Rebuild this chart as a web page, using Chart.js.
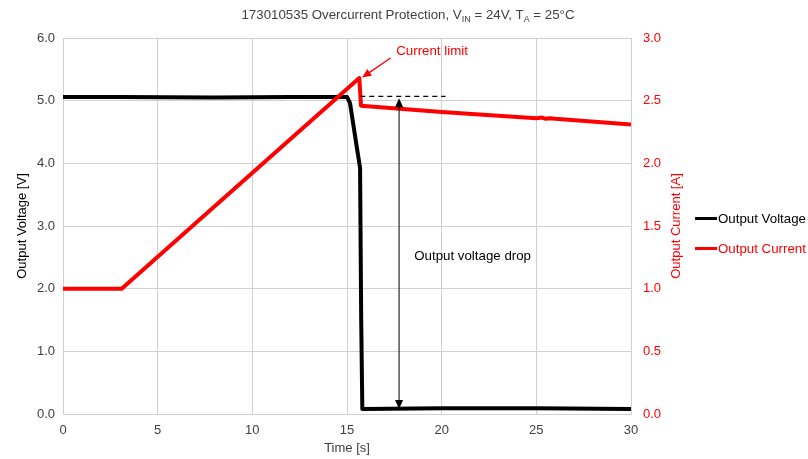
<!DOCTYPE html>
<html>
<head>
<meta charset="utf-8">
<script src="https://cdn.jsdelivr.net/npm/chart.js@4.4.1/dist/chart.umd.min.js"></script>
<style>
  html, body { margin: 0; padding: 0; background: #fff; }
  #wrap { position: relative; width: 808px; height: 459px; font-family: "Liberation Sans", Arial, sans-serif; }
  #title { position: absolute; top: 7px; left: 0; width: 816px; text-align: center; font-size: 13.3px; color: #404040; }
  #title sub { font-size: 9px; vertical-align: -3px; line-height: 0; }
  #legend { position: absolute; left: 695px; top: 209px; font-size: 13.3px; }
  .leg { display: flex; align-items: center; height: 18px; margin-bottom: 12px; }
  .leg i { display: inline-block; width: 22px; height: 3px; margin-right: 1px; }
</style>
</head>
<body>
<div id="wrap">
  <canvas id="chart" width="808" height="459"></canvas>
  <div id="title">173010535 Overcurrent Protection, V<sub>IN</sub> = 24V, T<sub>A</sub> = 25°C</div>
  <div id="legend">
    <div class="leg" style="color:#000"><i style="background:#000"></i>Output Voltage</div>
    <div class="leg" style="color:#ff0000"><i style="background:#ff0000"></i>Output Current</div>
  </div>
</div>
<script>
// ---- data ----
const voltageTime  = [0, 3, 8, 12, 15.0, 15.16, 15.51, 15.69, 15.75, 15.81, 20, 25, 30];
const voltageValue = [5.06, 5.06, 5.05, 5.06, 5.06, 4.96, 4.27, 3.93, 1.5, 0.08, 0.09, 0.09, 0.08];

const currentTime  = [0, 3.1, 15.65, 15.74, 20, 25, 25.3, 25.5, 25.7, 26, 30];
const currentValue = [1.0, 1.0, 2.68, 2.46, 2.41, 2.36, 2.365, 2.355, 2.36, 2.355, 2.31];

const xTicks = [0, 5, 10, 15, 20, 25, 30];

// annotation anchors (data units: time / left-axis volts)
const dashedLine   = { from: 15.7, to: 20.2, v: 5.07 };
const dropArrow    = { t: 17.75, top: 5.04, bottom: 0.08 };
const limitLabel   = { t: 17.6, v: 5.79, text: "Current limit" };
const limitArrow   = { fromT: 17.3, fromV: 5.68, toT: 15.8, toV: 5.37 };
const dropLabel    = { t: 18.55, v: 2.52, text: "Output voltage drop" };
const rightTitle   = "Output Current [A]";

const FONT = "'Liberation Sans', Arial, sans-serif";
const toXY = (t, v) => t.map((x, i) => ({ x, y: v[i] }));

function arrowHead(ctx, x1, y1, x2, y2, len, wid) {
  const a = Math.atan2(y2 - y1, x2 - x1);
  ctx.beginPath();
  ctx.moveTo(x2, y2);
  ctx.lineTo(x2 - len * Math.cos(a) + wid * Math.sin(a), y2 - len * Math.sin(a) - wid * Math.cos(a));
  ctx.lineTo(x2 - len * Math.cos(a) - wid * Math.sin(a), y2 - len * Math.sin(a) + wid * Math.cos(a));
  ctx.closePath();
  ctx.fill();
}

const annotations = {
  id: "annotations",
  afterDatasetsDraw(chart) {
    const { ctx, chartArea, scales: { x, y, y1 } } = chart;
    ctx.save();
    // dashed reference line
    ctx.strokeStyle = "#000";
    ctx.lineWidth = 1.2;
    ctx.setLineDash([5, 4]);
    ctx.beginPath();
    ctx.moveTo(x.getPixelForValue(dashedLine.from), y.getPixelForValue(dashedLine.v));
    ctx.lineTo(x.getPixelForValue(dashedLine.to), y.getPixelForValue(dashedLine.v));
    ctx.stroke();
    ctx.setLineDash([]);

    // double arrow
    const ax = x.getPixelForValue(dropArrow.t);
    const ay1 = y.getPixelForValue(dropArrow.top);
    const ay2 = y.getPixelForValue(dropArrow.bottom);
    ctx.lineWidth = 1;
    ctx.fillStyle = "#000";
    ctx.beginPath();
    ctx.moveTo(ax, ay1 + 6);
    ctx.lineTo(ax, ay2 - 6);
    ctx.stroke();
    arrowHead(ctx, ax, ay2, ax, ay1, 9, 4);
    arrowHead(ctx, ax, ay1, ax, ay2, 9, 4);

    // current limit arrow
    ctx.strokeStyle = "#ff0000";
    ctx.fillStyle = "#ff0000";
    ctx.lineWidth = 1.3;
    const lx1 = x.getPixelForValue(limitArrow.fromT), ly1 = y.getPixelForValue(limitArrow.fromV);
    const lx2 = x.getPixelForValue(limitArrow.toT), ly2 = y.getPixelForValue(limitArrow.toV);
    ctx.beginPath();
    ctx.moveTo(lx1, ly1);
    ctx.lineTo(lx2 + (lx1 - lx2) * 0.25, ly2 + (ly1 - ly2) * 0.25);
    ctx.stroke();
    arrowHead(ctx, lx1, ly1, lx2, ly2, 9, 4);

    // labels
    ctx.font = "13.3px " + FONT;
    ctx.textBaseline = "middle";
    ctx.textAlign = "left";
    ctx.fillText(limitLabel.text, x.getPixelForValue(limitLabel.t), y.getPixelForValue(limitLabel.v));
    ctx.fillStyle = "#000";
    ctx.fillText(dropLabel.text, x.getPixelForValue(dropLabel.t), y.getPixelForValue(dropLabel.v));

    // right axis title, reading bottom to top
    ctx.fillStyle = "#ff0000";
    ctx.font = "13px " + FONT;
    ctx.translate(y1.right - 11, (chartArea.top + chartArea.bottom) / 2);
    ctx.rotate(-Math.PI / 2);
    ctx.textAlign = "center";
    ctx.fillText(rightTitle, 0, 0);
    ctx.restore();
  }
};

const tickFont = { family: FONT, size: 13 };
const gridColor = "#d0d0d0";

new Chart(document.getElementById("chart"), {
  type: "line",
  data: {
    datasets: [
      {
        label: "Output Voltage",
        data: toXY(voltageTime, voltageValue),
        yAxisID: "y",
        borderColor: "#000",
        borderWidth: 4,
        borderJoinStyle: "round",
        pointRadius: 0,
        tension: 0,
        order: 2
      },
      {
        label: "Output Current",
        data: toXY(currentTime, currentValue),
        yAxisID: "y1",
        borderColor: "#ff0000",
        borderWidth: 4,
        borderJoinStyle: "round",
        pointRadius: 0,
        tension: 0,
        order: 1
      }
    ]
  },
  options: {
    responsive: false,
    animation: false,
    layout: { padding: { top: 38, right: 121, left: 0, bottom: 0 } },
    plugins: { legend: { display: false }, tooltip: { enabled: false } },
    scales: {
      x: {
        type: "linear",
        min: 0, max: 30,
        afterBuildTicks: s => { s.ticks = xTicks.map(v => ({ value: v })); },
        afterFit: s => { s.height = 45; },
        grid: { color: gridColor, drawTicks: false },
        border: { color: gridColor },
        ticks: { color: "#404040", font: tickFont, padding: 9 },
        title: { display: true, text: "Time [s]", color: "#404040", font: tickFont, padding: { top: 0, bottom: 3 } }
      },
      y: {
        position: "left",
        min: 0, max: 6,
        afterFit: s => { s.width = 63; },
        grid: { color: gridColor, drawTicks: false },
        border: { color: gridColor },
        ticks: { stepSize: 1, color: "#404040", font: tickFont, padding: 8, callback: v => v.toFixed(1) },
        title: { display: true, text: "Output Voltage [V]", color: "#000", font: tickFont, padding: { top: 15, bottom: 0 } }
      },
      y1: {
        position: "right",
        min: 0, max: 3,
        afterFit: s => { s.width = 56; },
        grid: { display: false, drawTicks: false },
        border: { color: gridColor },
        ticks: { stepSize: 0.5, color: "#ff0000", font: tickFont, padding: 12, callback: v => v.toFixed(1) },
        title: { display: false }
      }
    }
  },
  plugins: [annotations]
});
</script>
</body>
</html>
